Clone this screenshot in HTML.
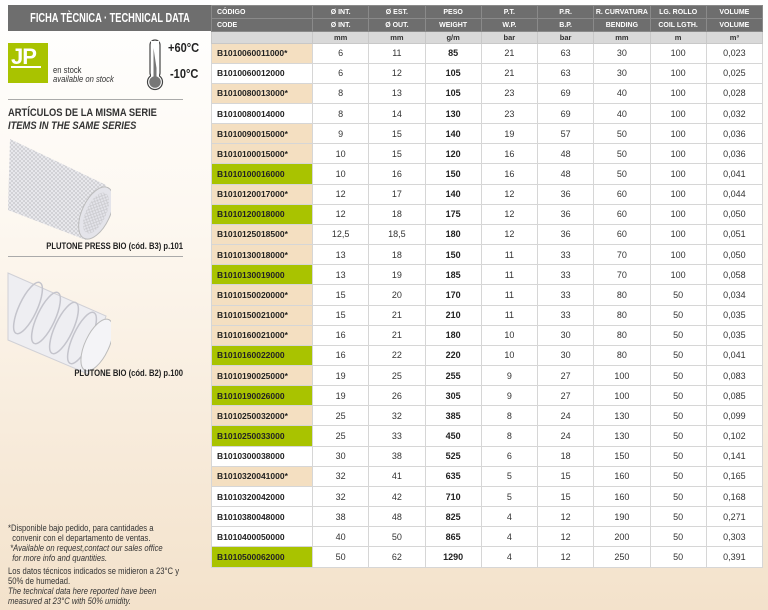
<!DOCTYPE html>
<html><head><meta charset="utf-8"><style>
*{margin:0;padding:0;box-sizing:border-box}
body{width:768px;height:610px;overflow:hidden;position:relative;font-family:"Liberation Sans",sans-serif;background:linear-gradient(180deg,#ffffff 0%,#fdf8f1 35%,#f7ead9 75%,#f3e2cb 100%);color:#222}
.abs{position:absolute}
.n{transform-origin:left top;transform:scaleX(0.85);white-space:nowrap}
table{position:absolute;left:211px;top:5px;width:551px;border-collapse:collapse;table-layout:fixed}
td{text-align:center;font-size:9px;padding:0;border:1px solid #d6d6d6;background:#fff;overflow:hidden;white-space:nowrap;color:#333}
tr.h td{background:#6e6e6e;color:#fff;font-weight:bold;font-size:7px;height:13px;border-color:#8a8a8a}
tr.u td{background:#d9d9d9;color:#333;font-weight:bold;font-size:7.5px;height:11.5px;border-color:#c8c8c8}
tr.d td{height:20.16px}
td.c{text-align:left;padding-left:5px;font-weight:bold;font-size:8.5px;color:#222}
td.b{background:#f4dfc1}
td.g{background:#a9c300}
td.w{font-weight:bold;color:#222}
</style></head><body>
<div class="abs" style="left:8px;top:5px;width:203px;height:26px;background:#6e6e6e"></div>
<div class="abs" style="left:-28px;top:5px;width:276px;height:26px;color:#fff;font-weight:bold;font-size:12.5px;text-align:center;line-height:26px;white-space:nowrap;transform:scaleX(0.74)">FICHA TÈCNICA · TECHNICAL DATA</div>
<div class="abs" style="left:8px;top:43px;width:40px;height:40px;background:#a9c300"></div>
<div class="abs" style="left:11px;top:44px;color:#fff;font-weight:bold;font-size:22px;letter-spacing:-1px">JP</div>
<div class="abs" style="left:11px;top:66px;width:30px;height:2px;background:#fff"></div>
<div class="abs n" style="left:53px;top:66px;font-size:9px;line-height:9px;color:#333">en stock<br><i>available on stock</i></div>
<svg class="abs" style="left:143px;top:38px" width="26" height="54"><rect x="7" y="2" width="10" height="38" rx="5" fill="#fff" stroke="#444" stroke-width="1.2"/><circle cx="12" cy="44" r="7.5" fill="#fff" stroke="#444" stroke-width="1.2"/><rect x="8" y="3" width="8" height="38" fill="#fff"/><path d="M10.5 10 L13.5 30 L13.5 42 L10.5 42Z" fill="#777"/><circle cx="12" cy="44" r="5.8" fill="#777"/></svg>
<div class="abs n" style="left:168px;top:40px;font-weight:bold;font-size:13px">+60°C</div>
<div class="abs n" style="left:170px;top:66px;font-weight:bold;font-size:13px">-10°C</div>
<div class="abs" style="left:8px;top:99px;width:175px;height:1px;background:#aaa"></div>
<div class="abs n" style="left:8px;top:107px;font-weight:bold;font-size:11px;line-height:13px;color:#333">ARTÍCULOS DE LA MISMA SERIE<br><i>ITEMS IN THE SAME SERIES</i></div>
<svg class="abs" style="left:6px;top:135px" width="105" height="108"><defs><pattern id="m" width="4" height="4" patternUnits="userSpaceOnUse"><path d="M0 0L4 4M4 0L0 4" stroke="#c8c8cc" stroke-width="0.7"/></pattern></defs><path d="M4 4 L100 50 L80 105 L2 75Z" fill="#ececf0"/><path d="M4 4 L100 50 L80 105 L2 75Z" fill="url(#m)"/><ellipse cx="90" cy="78" rx="14" ry="28" transform="rotate(25 90 78)" fill="#e4e4ea" stroke="#bbb"/><ellipse cx="90" cy="78" rx="10" ry="22" transform="rotate(25 90 78)" fill="url(#m)"/></svg>
<div class="abs" style="left:8px;top:241px;width:175px;text-align:right;font-weight:bold;font-size:9px;white-space:nowrap;transform-origin:right top;transform:scaleX(0.85)">PLUTONE PRESS BIO (cód. B3) p.101</div>
<div class="abs" style="left:8px;top:256px;width:175px;height:1px;background:#aaa"></div>
<svg class="abs" style="left:6px;top:268px" width="105" height="108"><path d="M2 5 L100 48 L82 106 L2 72Z" fill="#eeeef2" stroke="#d0d0d6"/><g fill="none" stroke="#c4c4cc" stroke-width="1.5"><ellipse cx="22" cy="40" rx="9" ry="28" transform="rotate(25 22 40)"/><ellipse cx="40" cy="50" rx="9" ry="28" transform="rotate(25 40 50)"/><ellipse cx="58" cy="60" rx="9" ry="28" transform="rotate(25 58 60)"/><ellipse cx="76" cy="70" rx="9" ry="28" transform="rotate(25 76 70)"/></g><ellipse cx="91" cy="77" rx="12" ry="28" transform="rotate(25 91 77)" fill="#f4f4f7" stroke="#bbb"/></svg>
<div class="abs" style="left:8px;top:368px;width:175px;text-align:right;font-weight:bold;font-size:9px;white-space:nowrap;transform-origin:right top;transform:scaleX(0.85)">PLUTONE BIO (cód. B2) p.100</div>
<div class="abs n" style="left:8px;top:523px;font-size:9px;line-height:10px;color:#333">*Disponible bajo pedido, para cantidades a<br>&nbsp;&nbsp;convenir con el departamento de ventas.<br>&nbsp;<i>*Available on request,contact our sales office<br>&nbsp;&nbsp;for more info and quantities.</i></div>
<div class="abs n" style="left:8px;top:566px;font-size:9px;line-height:10px;color:#333">Los datos técnicos indicados se midieron a 23°C y<br>50% de humedad.<br><i>The technical data here reported have been<br>measured at 23°C with 50% umidity.</i></div>
<table>
<colgroup><col style="width:101px"><col span="8" style="width:56.25px"></colgroup>
<tr class="h"><td class="c" style="font-size:7px">CÓDIGO</td><td>Ø INT.</td><td>Ø EST.</td><td>PESO</td><td>P.T.</td><td>P.R.</td><td>R. CURVATURA</td><td>LG. ROLLO</td><td>VOLUME</td></tr>
<tr class="h"><td class="c" style="font-size:7px">CODE</td><td>Ø INT.</td><td>Ø OUT.</td><td>WEIGHT</td><td>W.P.</td><td>B.P.</td><td>BENDING</td><td>COIL LGTH.</td><td>VOLUME</td></tr>
<tr class="u"><td></td><td>mm</td><td>mm</td><td>g/m</td><td>bar</td><td>bar</td><td>mm</td><td>m</td><td>m³</td></tr>
<tr class="d"><td class="c b">B1010060011000*</td><td>6</td><td>11</td><td class="w">85</td><td>21</td><td>63</td><td>30</td><td>100</td><td>0,023</td></tr>
<tr class="d"><td class="c">B1010060012000</td><td>6</td><td>12</td><td class="w">105</td><td>21</td><td>63</td><td>30</td><td>100</td><td>0,025</td></tr>
<tr class="d"><td class="c b">B1010080013000*</td><td>8</td><td>13</td><td class="w">105</td><td>23</td><td>69</td><td>40</td><td>100</td><td>0,028</td></tr>
<tr class="d"><td class="c">B1010080014000</td><td>8</td><td>14</td><td class="w">130</td><td>23</td><td>69</td><td>40</td><td>100</td><td>0,032</td></tr>
<tr class="d"><td class="c b">B1010090015000*</td><td>9</td><td>15</td><td class="w">140</td><td>19</td><td>57</td><td>50</td><td>100</td><td>0,036</td></tr>
<tr class="d"><td class="c b">B1010100015000*</td><td>10</td><td>15</td><td class="w">120</td><td>16</td><td>48</td><td>50</td><td>100</td><td>0,036</td></tr>
<tr class="d"><td class="c g">B1010100016000</td><td>10</td><td>16</td><td class="w">150</td><td>16</td><td>48</td><td>50</td><td>100</td><td>0,041</td></tr>
<tr class="d"><td class="c b">B1010120017000*</td><td>12</td><td>17</td><td class="w">140</td><td>12</td><td>36</td><td>60</td><td>100</td><td>0,044</td></tr>
<tr class="d"><td class="c g">B1010120018000</td><td>12</td><td>18</td><td class="w">175</td><td>12</td><td>36</td><td>60</td><td>100</td><td>0,050</td></tr>
<tr class="d"><td class="c b">B1010125018500*</td><td>12,5</td><td>18,5</td><td class="w">180</td><td>12</td><td>36</td><td>60</td><td>100</td><td>0,051</td></tr>
<tr class="d"><td class="c b">B1010130018000*</td><td>13</td><td>18</td><td class="w">150</td><td>11</td><td>33</td><td>70</td><td>100</td><td>0,050</td></tr>
<tr class="d"><td class="c g">B1010130019000</td><td>13</td><td>19</td><td class="w">185</td><td>11</td><td>33</td><td>70</td><td>100</td><td>0,058</td></tr>
<tr class="d"><td class="c b">B1010150020000*</td><td>15</td><td>20</td><td class="w">170</td><td>11</td><td>33</td><td>80</td><td>50</td><td>0,034</td></tr>
<tr class="d"><td class="c b">B1010150021000*</td><td>15</td><td>21</td><td class="w">210</td><td>11</td><td>33</td><td>80</td><td>50</td><td>0,035</td></tr>
<tr class="d"><td class="c b">B1010160021000*</td><td>16</td><td>21</td><td class="w">180</td><td>10</td><td>30</td><td>80</td><td>50</td><td>0,035</td></tr>
<tr class="d"><td class="c g">B1010160022000</td><td>16</td><td>22</td><td class="w">220</td><td>10</td><td>30</td><td>80</td><td>50</td><td>0,041</td></tr>
<tr class="d"><td class="c b">B1010190025000*</td><td>19</td><td>25</td><td class="w">255</td><td>9</td><td>27</td><td>100</td><td>50</td><td>0,083</td></tr>
<tr class="d"><td class="c g">B1010190026000</td><td>19</td><td>26</td><td class="w">305</td><td>9</td><td>27</td><td>100</td><td>50</td><td>0,085</td></tr>
<tr class="d"><td class="c b">B1010250032000*</td><td>25</td><td>32</td><td class="w">385</td><td>8</td><td>24</td><td>130</td><td>50</td><td>0,099</td></tr>
<tr class="d"><td class="c g">B1010250033000</td><td>25</td><td>33</td><td class="w">450</td><td>8</td><td>24</td><td>130</td><td>50</td><td>0,102</td></tr>
<tr class="d"><td class="c">B1010300038000</td><td>30</td><td>38</td><td class="w">525</td><td>6</td><td>18</td><td>150</td><td>50</td><td>0,141</td></tr>
<tr class="d"><td class="c b">B1010320041000*</td><td>32</td><td>41</td><td class="w">635</td><td>5</td><td>15</td><td>160</td><td>50</td><td>0,165</td></tr>
<tr class="d"><td class="c">B1010320042000</td><td>32</td><td>42</td><td class="w">710</td><td>5</td><td>15</td><td>160</td><td>50</td><td>0,168</td></tr>
<tr class="d"><td class="c">B1010380048000</td><td>38</td><td>48</td><td class="w">825</td><td>4</td><td>12</td><td>190</td><td>50</td><td>0,271</td></tr>
<tr class="d"><td class="c">B1010400050000</td><td>40</td><td>50</td><td class="w">865</td><td>4</td><td>12</td><td>200</td><td>50</td><td>0,303</td></tr>
<tr class="d"><td class="c g">B1010500062000</td><td>50</td><td>62</td><td class="w">1290</td><td>4</td><td>12</td><td>250</td><td>50</td><td>0,391</td></tr>
</table>
</body></html>
